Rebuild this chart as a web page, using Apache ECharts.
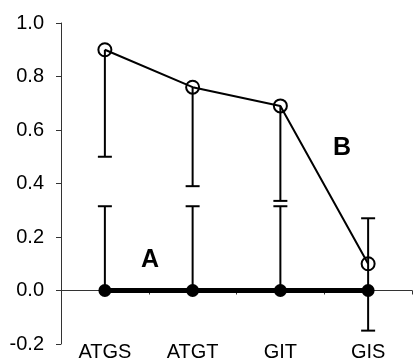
<!DOCTYPE html>
<html>
<head>
<meta charset="utf-8">
<script src="https://cdn.jsdelivr.net/npm/echarts@6/dist/echarts.min.js"></script>
<style>
  html, body { margin: 0; padding: 0; background: #fff; }
  #chart { width: 414px; height: 362px; }
</style>
</head>
<body>
<div id="chart"></div>
<script>
var categories = ['ATGS', 'ATGT', 'GIT', 'GIS'];
var seriesA = [0, 0, 0, 0];
var seriesB = [0.90, 0.76, 0.69, 0.10];
// error bar ranges (low / high end of each bar)
var aErrLow = [0, 0, 0, 0];
var aErrHigh = [0.315, 0.315, 0.315, 0];
var bErrLow = [0.50, 0.39, 0.335, -0.15];
var bErrHigh = [0.90, 0.76, 0.69, 0.27];
var yTicks = { min: -0.2, max: 1.0, step: 0.2 };

var font = 'Arial, "Liberation Sans", sans-serif';

function errData(low, high, vals) {
  return categories.map(function (c, i) { return [i, low[i], high[i], vals[i]]; });
}

function renderErr(params, api) {
  var i = api.value(0);
  var v = api.value(3);
  var lo = api.coord([i, api.value(1)]);
  var hi = api.coord([i, api.value(2)]);
  var cap = 7;
  var st = { stroke: '#000', lineWidth: 2 };
  var kids = [];
  if (lo[1] === hi[1]) return { type: 'group', children: [] };
  kids.push({ type: 'line', shape: { x1: lo[0], y1: lo[1], x2: hi[0], y2: hi[1] }, style: st });
  if (api.value(1) !== v) kids.push({ type: 'line', shape: { x1: lo[0] - cap, y1: lo[1], x2: lo[0] + cap, y2: lo[1] }, style: st });
  if (api.value(2) !== v) kids.push({ type: 'line', shape: { x1: hi[0] - cap, y1: hi[1], x2: hi[0] + cap, y2: hi[1] }, style: st });
  return { type: 'group', children: kids };
}

var myChart = echarts.init(document.getElementById('chart'));
myChart.setOption({
  animation: false,
  backgroundColor: '#fff',
  grid: { left: 61, right: 2, top: 23, bottom: 16 },
  xAxis: [
    {
      type: 'category',
      data: categories,
      position: 'bottom',
      axisLine: { show: false, onZero: false },
      axisTick: { show: false },
      axisLabel: { color: '#000', fontFamily: font, fontSize: 20, margin: -2 }
    },
    {
      type: 'category',
      data: categories,
      axisLine: { show: true, onZero: true, lineStyle: { color: '#333', width: 1 } },
      axisTick: { show: true, inside: true, length: 4, lineStyle: { color: '#333' } },
      axisLabel: { show: false }
    }
  ],
  yAxis: {
    type: 'value',
    min: yTicks.min,
    max: yTicks.max,
    interval: yTicks.step,
    splitLine: { show: false },
    axisLine: { show: true, lineStyle: { color: '#333', width: 1 } },
    axisTick: { show: true, length: 5, lineStyle: { color: '#333' } },
    axisLabel: {
      color: '#000', fontFamily: font, fontSize: 20, margin: 17,
      formatter: function (v) { return v.toFixed(1); }
    }
  },
  graphic: [
    { type: 'text', x: 150, y: 260, style: { text: 'A', font: 'bold 25px ' + font, fill: '#000', align: 'center', verticalAlign: 'middle' } },
    { type: 'text', x: 342, y: 148, style: { text: 'B', font: 'bold 25px ' + font, fill: '#000', align: 'center', verticalAlign: 'middle' } }
  ],
  series: [
    {
      name: 'A err', type: 'custom', xAxisIndex: 0, z: 1,
      renderItem: renderErr, data: errData(aErrLow, aErrHigh, seriesA)
    },
    {
      name: 'B err', type: 'custom', xAxisIndex: 0, z: 1,
      renderItem: renderErr, data: errData(bErrLow, bErrHigh, seriesB)
    },
    {
      name: 'A', type: 'line', xAxisIndex: 0, z: 3, data: seriesA,
      symbol: 'circle', symbolSize: 13,
      lineStyle: { color: '#000', width: 5 },
      itemStyle: { color: '#000' }
    },
    {
      name: 'B', type: 'line', xAxisIndex: 0, z: 3, data: seriesB,
      symbol: 'circle', symbolSize: 13,
      lineStyle: { color: '#000', width: 2 },
      itemStyle: { color: 'transparent', borderColor: '#000', borderWidth: 2 }
    }
  ]
});
</script>
</body>
</html>
